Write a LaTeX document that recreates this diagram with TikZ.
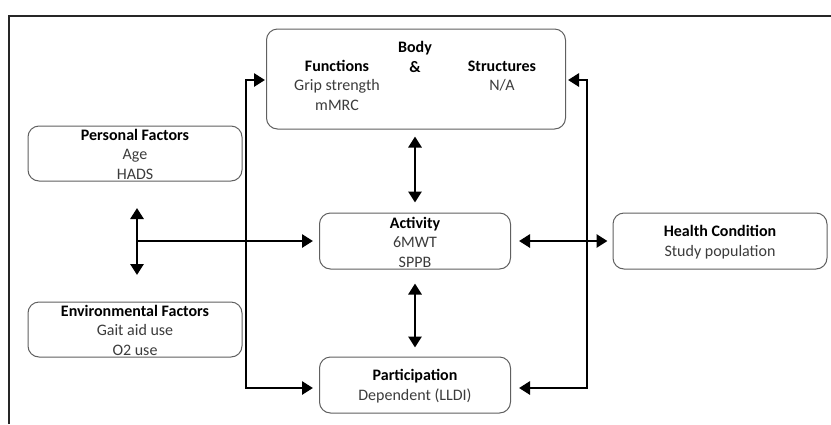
\documentclass[tikz,border=0pt]{standalone}
\usepackage{fontspec}
\setmainfont{Carlito}
\usetikzlibrary{arrows.meta}
\definecolor{txt}{HTML}{3C3C3C}
\definecolor{boxc}{HTML}{606060}
\tikzset{
  box/.style={draw=boxc, line width=1pt, rounded corners=11pt, fill=white},
  lbl/.style={align=center, font=\fontsize{16}{19.5}\selectfont, text=txt, inner sep=0pt},
  conn/.style={line width=2.9pt, -{Triangle[length=11pt,width=13pt]}},
  conn2/.style={line width=2.9pt, {Triangle[length=11pt,width=13pt]}-{Triangle[length=11pt,width=13pt]}},
}
\newcommand{\hd}[1]{\textbf{\textcolor{black}{#1}}}
\begin{document}
\begin{tikzpicture}[x=1pt,y=-1pt]
\useasboundingbox (0,0) rectangle (831,424);
% frame
\draw[line width=1.5pt, draw=black!85] (9,424) -- (9,16) -- (831,16);
% boxes
\node[box, minimum width=299pt, minimum height=100pt] (body) at (416,79) {};
\node[box, minimum width=214pt, minimum height=55pt] (pf) at (135,153.5) {};
\node[box, minimum width=214pt, minimum height=55pt] (ef) at (135,329.5) {};
\node[box, minimum width=191pt, minimum height=56pt] (act) at (415,241) {};
\node[box, minimum width=214pt, minimum height=56pt] (hc) at (720,241) {};
\node[box, minimum width=191pt, minimum height=56pt] (part) at (415,385) {};
% texts
\node[lbl] (tbody) at (415,57) {\hd{Body}\\\hd{\&}};
\node[lbl] (tfun) at (337,85) {\hd{Functions}\\Grip strength\\mMRC};
\node[lbl] (tstr) at (502,76) {\hd{Structures}\\N/A};
\node[lbl] (tpf) at (135,154) {\hd{Personal Factors}\\Age\\HADS};
\node[lbl] (tef) at (135,330) {\hd{Environmental Factors}\\Gait aid use\\O2 use};
\node[lbl] (tact) at (415,242) {\hd{Activity}\\6MWT\\SPPB};
\node[lbl] (thc) at (720,242) {\hd{Health Condition}\\Study population};
\node[lbl] (tpart) at (415,386) {\hd{Participation}\\Dependent (LLDI)};
% connectors
\draw[conn2] ([yshift=-7pt]act.north |- body.south) -- ([yshift=10pt]act.north);
\draw[conn2] ([yshift=-14pt]act.south) -- ([yshift=9pt]part.north);
\draw[conn2] ([xshift=8pt]act.east) -- ([xshift=-5pt]hc.west);
\coordinate (tj) at (137,241);
\coordinate (tt) at (137,208);
\coordinate (tb) at (137,275);
\draw[conn2] (tt) -- (tb);
\draw[conn] (tj) -- ([xshift=-6pt]act.west);
\coordinate (lt) at (246,80);
\coordinate (lb) at (246,388);
\draw[conn2] ([xshift=-1pt]body.west |- lt) -- (lt) -- (lb) -- ([xshift=-6pt]part.west |- lb);
\coordinate (rt) at (587,80);
\coordinate (rb) at (587,388);
\draw[conn2] ([xshift=2pt]body.east |- rt) -- (rt) -- (rb) -- ([xshift=8pt]part.east |- rb);
\end{tikzpicture}
\end{document}
